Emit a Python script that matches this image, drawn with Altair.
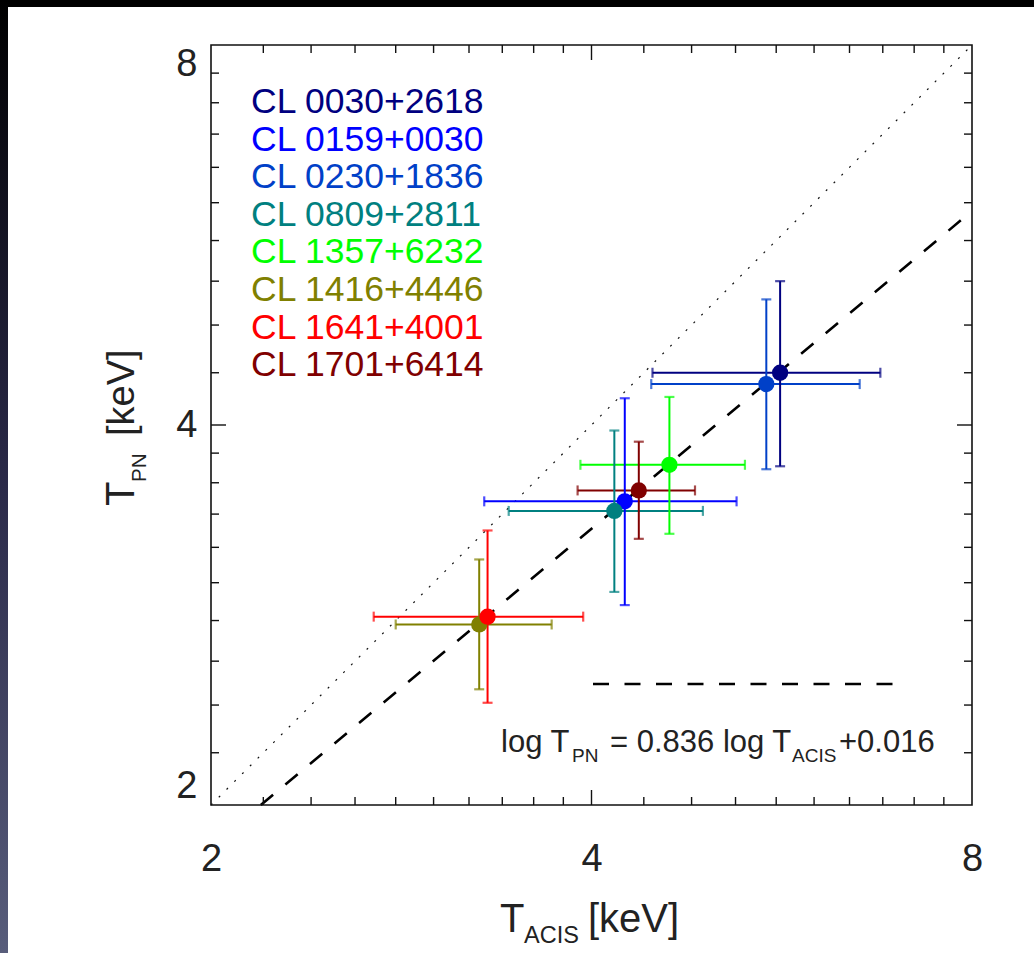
import altair as alt
import pandas as pd

# ---------------- data ----------------
names = ["CL 0030+2618", "CL 0159+0030", "CL 0230+1836", "CL 0809+2811",
         "CL 1357+6232", "CL 1416+4446", "CL 1641+4001", "CL 1701+6414"]
colors = ["#000080", "#0000ff", "#0040c8", "#008080",
          "#00ff00", "#808000", "#ff0000", "#800000"]
t_acis = [5.64, 4.25, 5.50, 4.17, 4.61, 3.26, 3.31, 4.36]
t_acis_lo = [4.47, 3.29, 4.46, 3.44, 3.92, 2.80, 2.69, 3.90]
t_acis_hi = [6.77, 5.21, 6.52, 4.90, 5.29, 3.72, 3.94, 4.83]
t_pn = [4.40, 3.48, 4.31, 3.42, 3.72, 2.78, 2.82, 3.55]
t_pn_lo = [3.71, 2.88, 3.69, 2.95, 3.28, 2.47, 2.41, 3.25]
t_pn_hi = [5.20, 4.20, 5.03, 3.96, 4.21, 3.13, 3.30, 3.88]

# 1:1 relation and fit (log T_PN = 0.836 log T_ACIS + 0.016) end points
one_x = [2.0, 8.0]
one_y = [2.0, 8.0]
fit_x = [2.19, 8.0]
fit_y = [2.0, 5.91]

tick_major = [4]
tick_minor = [2.2, 2.4, 2.6, 2.8, 3.0, 3.2, 3.4, 3.6, 3.8,
              4.4, 4.8, 5.2, 5.6, 6.0, 6.4, 6.8, 7.2, 7.6]
axis_labels = [2, 4, 8]

# ---------------- layout ----------------
W, H = 761, 760
FONT = "Liberation Sans"

df = pd.DataFrame({"name": names, "x": t_acis, "xlo": t_acis_lo, "xhi": t_acis_hi,
                   "y": t_pn, "ylo": t_pn_lo, "yhi": t_pn_hi})

xs = alt.Scale(type="log", domain=[2, 8], nice=False, zero=False)
ys = alt.Scale(type="log", domain=[2, 8], nice=False, zero=False)
ax = alt.Axis(values=axis_labels, format="d", labelFontSize=38, labelFont=FONT,
              labelColor="#222", labelPadding=35, ticks=False, domain=False,
              grid=False, title=None, labelFlush=False)
ay = alt.Axis(values=axis_labels, format="d", labelFontSize=38, labelFont=FONT,
              labelColor="#222", labelPadding=14, ticks=False, domain=False,
              grid=False, title=None, labelFlush=True)


def X(f):
    return alt.X(f, scale=xs, axis=ax)


def Y(f):
    return alt.Y(f, scale=ys, axis=ay)


col = alt.Color("name:N", scale=alt.Scale(domain=names, range=colors), legend=None)
dummy = pd.DataFrame({"a": [0]})


def txt(s, x, y, size, color="#222", angle=0):
    return alt.Chart(dummy).mark_text(
        text=s, font=FONT, fontSize=size, color=color, align="left",
        baseline="alphabetic", angle=angle
    ).encode(x=alt.value(x), y=alt.value(y))


layers = []

# page decoration: black top bar and gradient strip on the left
layers.append(alt.Chart(dummy).mark_rect(color="#000000").encode(
    x=alt.value(-211), x2=alt.value(W + 62), y=alt.value(-45), y2=alt.value(-38)))
grad = alt.LinearGradient(gradient="linear", x1=0, x2=0, y1=0, y2=1, stops=[
    alt.GradientStop(color="#000000", offset=0),
    alt.GradientStop(color="#2a2948", offset=0.5),
    alt.GradientStop(color="#585d7b", offset=1)])
layers.append(alt.Chart(dummy).mark_rect(color=grad).encode(
    x=alt.value(-211), x2=alt.value(-203), y=alt.value(-45), y2=alt.value(H + 148)))

# reference lines
layers.append(alt.Chart(pd.DataFrame({"x": one_x, "y": one_y})).mark_line(
    color="#111", strokeWidth=1.2, strokeDash=[2, 9]).encode(x=X("x:Q"), y=Y("y:Q")))
layers.append(alt.Chart(pd.DataFrame({"x": fit_x, "y": fit_y})).mark_line(
    color="#000", strokeWidth=2.6, strokeDash=[16, 16]).encode(x=X("x:Q"), y=Y("y:Q")))

# error bars
layers.append(alt.Chart(df).mark_rule(strokeWidth=2).encode(
    x=X("xlo:Q"), x2=alt.X2("xhi:Q"), y=Y("y:Q"), color=col))
layers.append(alt.Chart(df).mark_rule(strokeWidth=2).encode(
    x=X("x:Q"), y=Y("ylo:Q"), y2=alt.Y2("yhi:Q"), color=col))
layers.append(alt.Chart(df).transform_fold(["xlo", "xhi"], as_=["k", "cx"]).mark_tick(
    orient="vertical", size=10, thickness=2.2).encode(x=X("cx:Q"), y=Y("y:Q"), color=col))
layers.append(alt.Chart(df).transform_fold(["ylo", "yhi"], as_=["k", "cy"]).mark_tick(
    orient="horizontal", size=10, thickness=2.2).encode(x=X("x:Q"), y=Y("cy:Q"), color=col))

# points
layers.append(alt.Chart(df).mark_circle(size=265, opacity=1).encode(
    x=X("x:Q"), y=Y("y:Q"), color=col))

# frame
layers.append(alt.Chart(dummy).mark_rect(fillOpacity=0, stroke="#111", strokeWidth=1.6).encode(
    x=alt.value(0), x2=alt.value(W), y=alt.value(0), y2=alt.value(H)))

# ticks on all four sides, pointing inward
for vals, L in ((tick_major, 15), (tick_minor, 8)):
    tdf = pd.DataFrame({"v": vals})
    base = alt.Chart(tdf).mark_rule(color="#111", strokeWidth=1.4)
    layers.append(base.encode(x=X("v:Q"), y=alt.value(H), y2=alt.value(H - L)))
    layers.append(base.encode(x=X("v:Q"), y=alt.value(0), y2=alt.value(L)))
    layers.append(base.encode(y=Y("v:Q"), x=alt.value(0), x2=alt.value(L)))
    layers.append(base.encode(y=Y("v:Q"), x=alt.value(W), x2=alt.value(W - L)))

# in-plot legend of cluster names
for i, (n, c) in enumerate(zip(names, colors)):
    layers.append(txt(n, 40, 68 + i * 37.6, 35.5, color=c))

# fit legend: dashed sample + equation
layers.append(alt.Chart(dummy).mark_rule(color="#000", strokeWidth=2.6, strokeDash=[16, 15.5]).encode(
    x=alt.value(382), x2=alt.value(682), y=alt.value(639)))
layers += [
    txt("log T", 290, 707, 31), txt("PN", 361, 717, 19),
    txt("= 0.836 log T", 399, 707, 31), txt("ACIS", 581, 717, 19),
    txt("+0.016", 628, 707, 31),
]

# axis titles with subscripts
layers += [
    txt("T", 289, 887, 40), txt("ACIS", 313, 898, 23.5), txt("[keV]", 377, 887, 40),
    txt("T", -77, 461, 40, angle=270), txt("PN", -65, 437, 20.5, angle=270),
    txt("[keV]", -77, 391, 38, angle=270),
]

chart = alt.layer(*layers).properties(
    width=W, height=H,
    padding={"left": 211, "top": 45, "right": 62, "bottom": 148},
    autosize=alt.AutoSizeParams(type="none"),
    background="white",
).configure_view(strokeWidth=0)

chart.save("out.html", embed_options={"renderer": "svg", "actions": False})
